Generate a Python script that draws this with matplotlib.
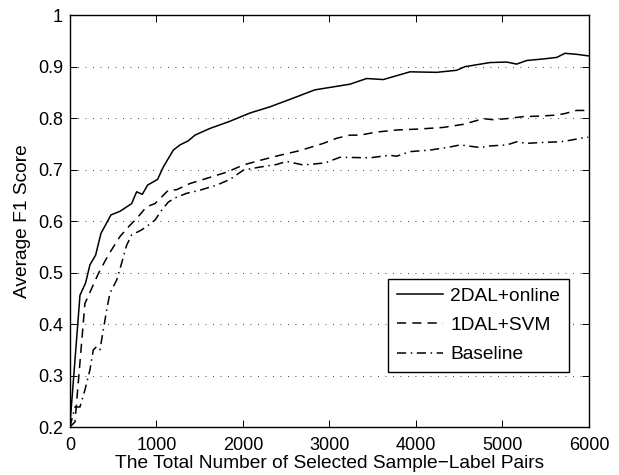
import numpy as np
import matplotlib
matplotlib.use('Agg')
import matplotlib.pyplot as plt

#### values ####
x_2dal = [0, 116, 181, 231, 297, 358, 474, 578, 713, 771, 836, 898, 1013, 1079, 1195,
          1272, 1368, 1445, 1618, 1850, 2081, 2312, 2582, 2832, 3237, 3430, 3622,
          3931, 4239, 4470, 4566, 4855, 5048, 5164, 5280, 5472, 5627, 5723, 5858, 5992]
y_2dal = [0.204, 0.456, 0.48, 0.515, 0.534, 0.576, 0.612, 0.619, 0.634, 0.657, 0.652,
          0.67, 0.681, 0.705, 0.738, 0.748, 0.756, 0.767, 0.78, 0.794, 0.81, 0.822,
          0.839, 0.855, 0.866, 0.877, 0.875, 0.89, 0.889, 0.893, 0.9, 0.908, 0.909,
          0.905, 0.912, 0.915, 0.918, 0.926, 0.924, 0.921]

x_1dal = [0, 58, 173, 328, 443, 578, 694, 771, 886, 983, 1060, 1137, 1233, 1387, 1618,
          1811, 2004, 2197, 2428, 2659, 2929, 3083, 3237, 3353, 3545, 3776, 4046,
          4316, 4547, 4778, 4894, 5048, 5241, 5434, 5627, 5723, 5858, 5992]
y_1dal = [0.2, 0.21, 0.44, 0.498, 0.534, 0.57, 0.592, 0.605, 0.628, 0.634, 0.647, 0.66,
          0.661, 0.673, 0.685, 0.695, 0.709, 0.718, 0.728, 0.737, 0.751, 0.761, 0.767,
          0.767, 0.773, 0.777, 0.779, 0.782, 0.788, 0.799, 0.797, 0.799, 0.803, 0.804,
          0.806, 0.809, 0.815, 0.815]

x_base = [0, 58, 116, 173, 231, 270, 308, 347, 385, 424, 462, 539, 597, 655, 713, 829,
          906, 983, 1060, 1137, 1214, 1349, 1503, 1696, 1850, 2004, 2197, 2389, 2505,
          2697, 2948, 3121, 3468, 3699, 3776, 3931, 4162, 4393, 4509, 4740, 4855, 5048,
          5164, 5280, 5472, 5665, 5780, 5935, 5992]
y_base = [0.2, 0.239, 0.239, 0.272, 0.311, 0.35, 0.356, 0.35, 0.388, 0.427, 0.46, 0.485,
          0.518, 0.553, 0.573, 0.583, 0.592, 0.602, 0.621, 0.637, 0.645, 0.654, 0.66,
          0.67, 0.681, 0.699, 0.705, 0.71, 0.716, 0.709, 0.713, 0.724, 0.723, 0.728,
          0.726, 0.735, 0.738, 0.744, 0.748, 0.743, 0.746, 0.748, 0.754, 0.751, 0.753,
          0.754, 0.757, 0.762, 0.763]

labels = ['2DAL+online', '1DAL+SVM', 'Baseline']
xticks = np.arange(0, 6001, 1000)
yticks = [0.2, 0.3, 0.4, 0.5, 0.6, 0.7, 0.8, 0.9, 1.0]
yticklabels = ['0.2', '0.3', '0.4', '0.5', '0.6', '0.7', '0.8', '0.9', '1']

#### figure ####
plt.rcParams['font.family'] = ['Liberation Sans', 'DejaVu Sans']
plt.rcParams['font.size'] = 13

fig = plt.figure(figsize=(6.19, 4.75), dpi=100)
ax = fig.add_axes([0.113, 0.101, 0.8385, 0.867])

ax.plot(x_2dal, y_2dal, color='black', lw=1.1, ls='-', label=labels[0])
ax.plot(x_1dal, y_1dal, color='black', lw=1.1, dashes=(6, 4), label=labels[1])
ax.plot(x_base, y_base, color='black', lw=1.1, dashes=(6, 3, 1, 3), label=labels[2])

ax.set_xlim(0, 6000)
ax.set_ylim(0.2, 1.0)
ax.set_xticks(xticks)
ax.set_yticks(yticks)
ax.set_yticklabels(yticklabels)
ax.tick_params(direction='in', top=True, right=True, length=5, width=0.7, labelsize=13)
ax.tick_params(axis='x', pad=7)
ax.tick_params(axis='y', pad=5)
ax.yaxis.grid(True, ls=(0, (1, 8)), color='black', lw=0.6)
for s in ax.spines.values():
    s.set_linewidth(1.0)

ax.set_xlabel('The Total Number of Selected Sample\u2212Label Pairs', fontsize=13.8, labelpad=1)
ax.set_ylabel('Average F1 Score', fontsize=13.8, labelpad=5)

leg = ax.legend(loc='lower right', bbox_to_anchor=(0.9615, 0.1335), fancybox=False,
                edgecolor='black', framealpha=1, fontsize=13.8, handlelength=2.4,
                handletextpad=0.4, labelspacing=0.62, borderpad=0.45, borderaxespad=0)
leg.get_frame().set_linewidth(1.0)

fig.savefig('out.png', dpi=100)
